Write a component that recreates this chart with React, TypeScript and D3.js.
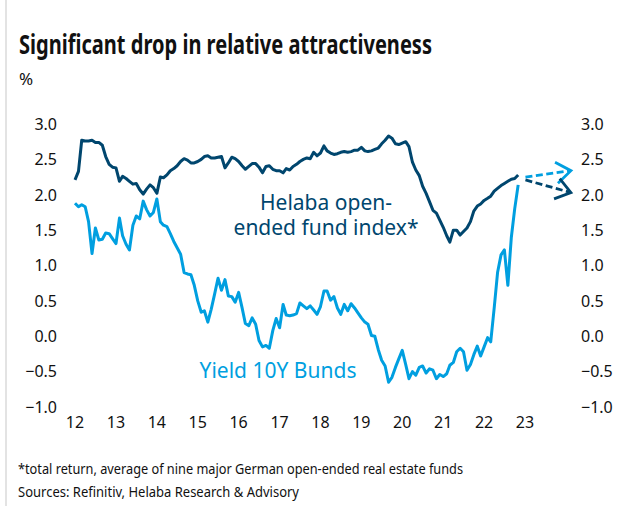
import React from "react";
import * as d3 from "d3";

// ---------- DATA ----------
const startYear = 2012; // monthly series start: Jan 2012
const helabaIndex: number[] = [
  2.21, 2.33, 2.77, 2.76, 2.76, 2.77, 2.74, 2.74, 2.70, 2.54, 2.43, 2.39,
  2.38, 2.19, 2.26, 2.23, 2.19, 2.15, 2.16, 2.07, 2.01, 2.08, 2.14, 2.10,
  2.02, 2.25, 2.24, 2.28, 2.34, 2.37, 2.41, 2.47, 2.51, 2.49, 2.45, 2.45,
  2.47, 2.50, 2.54, 2.55, 2.52, 2.52, 2.53, 2.54, 2.38, 2.45, 2.53, 2.51,
  2.47, 2.41, 2.36, 2.40, 2.44, 2.44, 2.39, 2.31, 2.40, 2.41, 2.36, 2.34,
  2.34, 2.31, 2.37, 2.35, 2.40, 2.43, 2.47, 2.50, 2.52, 2.51, 2.60, 2.55,
  2.59, 2.69, 2.62, 2.59, 2.57, 2.58, 2.60, 2.61, 2.60, 2.61, 2.63, 2.63,
  2.67, 2.62, 2.61, 2.62, 2.64, 2.66, 2.72, 2.77, 2.83, 2.80, 2.72, 2.71,
  2.73, 2.75, 2.68, 2.46, 2.35, 2.27, 2.12, 2.02, 1.90, 1.78, 1.74, 1.64,
  1.54, 1.42, 1.33, 1.50, 1.50, 1.43, 1.48, 1.53, 1.62, 1.77, 1.84, 1.87,
  1.92, 1.95, 1.98, 2.05, 2.09, 2.13, 2.16, 2.19, 2.22, 2.23, 2.28,
];
const bundYield: number[] = [
  1.88, 1.83, 1.86, 1.83, 1.62, 1.17, 1.53, 1.36, 1.37, 1.46, 1.45, 1.38,
  1.31, 1.67, 1.42, 1.30, 1.22, 1.57, 1.70, 1.66, 1.91, 1.79, 1.70, 1.75,
  1.94, 1.62, 1.57, 1.55, 1.45, 1.34, 1.25, 1.16, 0.90, 0.88, 0.87, 0.72,
  0.50, 0.34, 0.36, 0.20, 0.38, 0.60, 0.82, 0.65, 0.80, 0.57, 0.56, 0.48,
  0.62, 0.40, 0.18, 0.15, 0.26, 0.17, -0.06, -0.15, -0.13, -0.17, 0.08, 0.25,
  0.12, 0.45, 0.30, 0.29, 0.30, 0.32, 0.47, 0.43, 0.39, 0.43, 0.37, 0.31,
  0.42, 0.64, 0.64, 0.51, 0.56, 0.40, 0.31, 0.45, 0.36, 0.46, 0.40, 0.33,
  0.26, 0.20, 0.17, 0.01, 0.00, -0.19, -0.34, -0.42, -0.65, -0.58, -0.44, -0.32,
  -0.20, -0.40, -0.60, -0.50, -0.55, -0.44, -0.42, -0.52, -0.46, -0.48, -0.60, -0.54,
  -0.57, -0.53, -0.41, -0.37, -0.22, -0.17, -0.22, -0.48, -0.40, -0.26, -0.14, -0.28,
  -0.15, -0.02, -0.08, 0.40, 0.90, 1.15, 1.22, 0.72, 1.40, 1.80, 2.14,
];
const yearLabels = ["12", "13", "14", "15", "16", "17", "18", "19", "20", "21", "22", "23"];
const yTicks = [3.0, 2.5, 2.0, 1.5, 1.0, 0.5, 0.0, -0.5, -1.0];
// outlook arrows
const bundOutlook = { from: new Date(2023, 0, 5), fromV: 2.25, to: new Date(2024, 1, 15), toV: 2.34 };
const helabaOutlook = { from: new Date(2023, 0, 5), fromV: 2.21, to: new Date(2024, 1, 15), toV: 2.03 };

const title = "Significant drop in relative attractiveness";
const unit = "%";
const helabaLabel = ["Helaba open-", "ended fund index*"];
const bundLabel = "Yield 10Y Bunds";
const footnote1 = "*total return, average of nine major German open-ended real estate funds";
const footnote2 = "Sources: Refinitiv, Helaba Research & Advisory";

// ---------- STYLE ----------
const W = 618;
const H = 506;
const DARK = "#00466e";
const LIGHT = "#009fe0";
const TEXT = "#111";
const FONT = "'Noto Sans', sans-serif";

export default function App() {
  const x = d3
    .scaleTime()
    .domain([new Date(2012, 0, 1), new Date(2023, 0, 1)])
    .range([75, 525]);
  const y = d3.scaleLinear().domain([-1, 3]).range([407, 124]);

  const line = d3
    .line<number>()
    .x((_, i) => x(new Date(startYear, i, 1)))
    .y((d) => y(d));

  const arrow = (o: typeof bundOutlook, color: string) => {
    const x1 = x(o.from), y1 = y(o.fromV), x2 = x(o.to), y2 = y(o.toV);
    const ang = Math.atan2(y2 - y1, x2 - x1);
    const len = 18;
    const half = (36 * Math.PI) / 180;
    const a1 = [x2 - len * Math.cos(ang - half), y2 - len * Math.sin(ang - half)];
    const a2 = [x2 - len * Math.cos(ang + half), y2 - len * Math.sin(ang + half)];
    return (
      <g>
        <line x1={x1} y1={y1} x2={x2 - 2 * Math.cos(ang)} y2={y2 - 2 * Math.sin(ang)} stroke={color} strokeWidth={2.8} strokeDasharray="7 3.5" />
        <polyline points={`${a1[0]},${a1[1]} ${x2},${y2} ${a2[0]},${a2[1]}`} fill="none" stroke={color} strokeWidth={2.8} strokeLinejoin="miter" />
      </g>
    );
  };

  return (
    <svg width={W} height={H} style={{ position: "absolute", left: 0, top: 0, background: "#fff" }} fontFamily={FONT}>
      <rect x={0} y={0} width={W} height={H} fill="#fff" />
      <line x1={6} y1={0} x2={6} y2={H} stroke="#e3e3e3" strokeWidth={2} />
      <text x={19} y={54} fontSize={26} fontWeight={700} fill={TEXT} textLength={413} lengthAdjust="spacingAndGlyphs">{title}</text>
      <text x={19} y={85} fontSize={17} fill={TEXT}>{unit}</text>

      {yTicks.map((t) => (
        <g key={t}>
          <text x={57} y={y(t)} dy="0.36em" textAnchor="end" fontSize={16} fill={TEXT}>{d3.format(".1f")(t)}</text>
          <text x={581} y={y(t)} dy="0.36em" textAnchor="start" fontSize={16} fill={TEXT}>{d3.format(".1f")(t)}</text>
        </g>
      ))}
      {yearLabels.map((l, i) => (
        <text key={l} x={x(new Date(startYear + i, 0, 1))} y={422} dy="0.36em" textAnchor="middle" fontSize={16} fill={TEXT}>{l}</text>
      ))}

      <path d={line(bundYield) || ""} fill="none" stroke={LIGHT} strokeWidth={3} strokeLinejoin="round" />
      <path d={line(helabaIndex) || ""} fill="none" stroke={DARK} strokeWidth={3} strokeLinejoin="round" />
      {arrow(bundOutlook, LIGHT)}
      {arrow(helabaOutlook, DARK)}

      <text textAnchor="middle" fontSize={21} fill={DARK}>
        <tspan x={326} y={210}>{helabaLabel[0]}</tspan>
        <tspan x={326} y={235}>{helabaLabel[1]}</tspan>
      </text>
      <text x={278} y={378} textAnchor="middle" fontSize={21} fill={LIGHT}>{bundLabel}</text>

      <text x={18} y={474} fontSize={15} fill={TEXT} textLength={445} lengthAdjust="spacingAndGlyphs">{footnote1}</text>
      <text x={18} y={497} fontSize={15} fill={TEXT} textLength={281} lengthAdjust="spacingAndGlyphs">{footnote2}</text>
    </svg>
  );
}
